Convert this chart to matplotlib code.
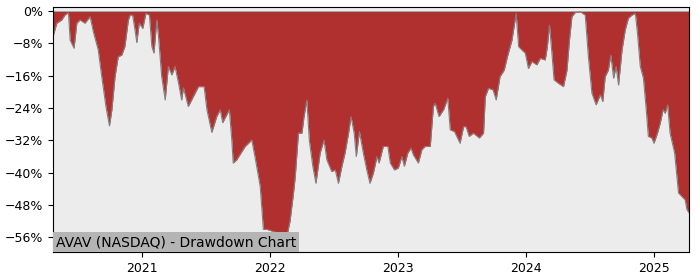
import matplotlib
matplotlib.use('Agg')
import matplotlib.pyplot as plt
import matplotlib.dates as mdates
import matplotlib.ticker as mticker
import pandas as pd

ticker = 'AVAV (NASDAQ) - Drawdown Chart'

dates = [
    '2020-04-22', '2020-05-03', '2020-05-17', '2020-05-26', '2020-06-05', '2020-06-10',
    '2020-06-21', '2020-06-29', '2020-07-08', '2020-07-22', '2020-08-06', '2020-08-15',
    '2020-08-29', '2020-09-08', '2020-09-20', '2020-09-30', '2020-10-07', '2020-10-16',
    '2020-10-25', '2020-11-04', '2020-11-13', '2020-11-23', '2020-11-28', '2020-12-05',
    '2020-12-12', '2020-12-17', '2020-12-24', '2021-01-03', '2021-01-12', '2021-01-22',
    '2021-01-29', '2021-02-04', '2021-02-12', '2021-02-17', '2021-02-26', '2021-03-08',
    '2021-03-17', '2021-03-27', '2021-04-05', '2021-04-15', '2021-04-24', '2021-04-29',
    '2021-05-13', '2021-05-27', '2021-06-11', '2021-06-27', '2021-07-05', '2021-07-19',
    '2021-08-02', '2021-08-12', '2021-08-19', '2021-09-07', '2021-09-14', '2021-09-18',
    '2021-09-28', '2021-10-22', '2021-11-10', '2021-11-19', '2021-12-04', '2021-12-13',
    '2021-12-23', '2022-01-20', '2022-02-04', '2022-02-18', '2022-02-27', '2022-03-09',
    '2022-03-14', '2022-03-23', '2022-04-02', '2022-04-08', '2022-04-16', '2022-04-23',
    '2022-05-03', '2022-05-12', '2022-05-24', '2022-06-04', '2022-06-12', '2022-06-26',
    '2022-07-06', '2022-07-15', '2022-07-25', '2022-08-03', '2022-08-13', '2022-08-20',
    '2022-08-29', '2022-09-04', '2022-09-13', '2022-09-24', '2022-10-04', '2022-10-13',
    '2022-10-23', '2022-11-02', '2022-11-08', '2022-11-20', '2022-12-03', '2022-12-10',
    '2022-12-22', '2023-01-02', '2023-01-12', '2023-01-19', '2023-01-29', '2023-02-07',
    '2023-02-14', '2023-02-28', '2023-03-10', '2023-03-19', '2023-04-03', '2023-04-12',
    '2023-04-17', '2023-04-28', '2023-05-11', '2023-05-23', '2023-05-30', '2023-06-11',
    '2023-06-27', '2023-07-07', '2023-07-14', '2023-07-23', '2023-08-04', '2023-08-21',
    '2023-09-02', '2023-09-07', '2023-09-16', '2023-09-29', '2023-10-08', '2023-10-19',
    '2023-10-31', '2023-11-09', '2023-11-22', '2023-12-04', '2023-12-11', '2023-12-20',
    '2023-12-30', '2024-01-08', '2024-01-18', '2024-02-01', '2024-02-11', '2024-02-25',
    '2024-03-02', '2024-03-08', '2024-03-15', '2024-03-21', '2024-04-03', '2024-04-17',
    '2024-04-27', '2024-05-04', '2024-05-11', '2024-05-20', '2024-06-04', '2024-06-18',
    '2024-06-27', '2024-07-07', '2024-07-19', '2024-07-31', '2024-08-07', '2024-08-14',
    '2024-08-23', '2024-08-30', '2024-09-07', '2024-09-14', '2024-09-21', '2024-10-01',
    '2024-10-10', '2024-10-19', '2024-10-29', '2024-11-08', '2024-11-14', '2024-11-22',
    '2024-12-01', '2024-12-09', '2024-12-15', '2024-12-25', '2024-12-31', '2025-01-10',
    '2025-01-18', '2025-01-26', '2025-02-01', '2025-02-08', '2025-02-15', '2025-02-28',
    '2025-03-11', '2025-03-20', '2025-03-30', '2025-04-04', '2025-04-09',
]

drawdown = [
    -6.3, -3.0, -2.2, -1.0, -0.4, -7.2,
    -9.2, -3.0, -2.2, -3.0, -1.4, -5.1,
    -9.6, -16.2, -23.6, -28.4, -24.4, -16.2,
    -11.3, -10.9, -8.8, -2.2, -1.0, -1.0,
    -4.7, -7.8, -3.0, -4.3, -0.6, -1.0,
    -8.8, -10.4, -2.2, -6.3, -16.2, -22.0,
    -13.7, -15.8, -13.7, -17.8, -22.0, -19.0,
    -23.6, -21.2, -18.7, -18.7, -24.4, -30.0,
    -26.1, -24.4, -27.6, -24.4, -31.9, -37.6,
    -36.8, -33.5, -31.9, -36.0, -43.4, -54.0,
    -54.0, -54.8, -59.0, -55.7, -52.0, -45.0,
    -40.9, -30.2, -30.2, -26.1, -22.0, -31.9,
    -38.4, -42.6, -35.1, -31.9, -36.8, -39.7,
    -39.3, -42.6, -38.4, -35.1, -30.2, -26.1,
    -30.2, -36.0, -29.8, -35.1, -39.3, -42.6,
    -40.0, -36.0, -37.6, -33.5, -33.5, -37.6,
    -39.3, -38.8, -36.0, -38.4, -35.1, -33.9,
    -35.6, -37.6, -34.3, -33.5, -33.5, -23.6,
    -22.8, -26.1, -24.4, -21.6, -29.4, -29.8,
    -32.7, -28.6, -28.6, -31.0, -30.2, -31.4,
    -30.2, -21.2, -19.1, -19.5, -22.0, -16.2,
    -14.6, -11.3, -7.2, -0.6, -8.8, -9.6,
    -10.4, -14.2, -12.5, -13.3, -11.7, -12.1,
    -8.8, -3.5, -10.4, -17.0, -17.9, -18.7,
    -14.6, -7.2, -1.4, -0.4, -0.2, -1.0,
    -11.3, -20.3, -23.2, -20.7, -22.4, -16.2,
    -14.6, -10.9, -16.6, -13.7, -18.3, -9.6,
    -4.7, -1.8, -1.0, -0.6, -5.5, -13.7,
    -16.6, -24.4, -31.0, -31.4, -32.7, -30.2,
    -27.7, -24.4, -25.3, -23.2, -30.2, -35.1,
    -45.0, -45.8, -46.7, -49.1, -49.8,
]

yticks = [0, -8, -16, -24, -32, -40, -48, -56]

df = pd.DataFrame({'date': pd.to_datetime(dates), 'dd': drawdown})

fig = plt.figure(figsize=(7, 2.8), dpi=100)
ax = fig.add_axes([0.0757, 0.1, 0.9086, 0.875])
ax.set_facecolor('#ececec')

ax.fill_between(df['date'], df['dd'], 0, color='#b03030', lw=0)
ax.plot(df['date'], df['dd'], color='#808080', lw=0.8)

ax.set_xlim(df['date'].iloc[0], pd.Timestamp('2025-04-10'))
ax.set_ylim(-59.6, 1.0)
ax.set_yticks(yticks)
ax.yaxis.set_major_formatter(mticker.FuncFormatter(lambda v, p: '%d%%' % v if v >= 0 else '\u2212%d%%' % -v))
ax.xaxis.set_major_locator(mdates.YearLocator())
ax.xaxis.set_major_formatter(mdates.DateFormatter('%Y'))
ax.tick_params(labelsize=9)

ax.text(0.004, 0.012, ticker, transform=ax.transAxes, fontsize=10, va='bottom', ha='left',
        bbox=dict(facecolor='#b4b4b4', edgecolor='none', pad=2))

fig.savefig('out.png')
